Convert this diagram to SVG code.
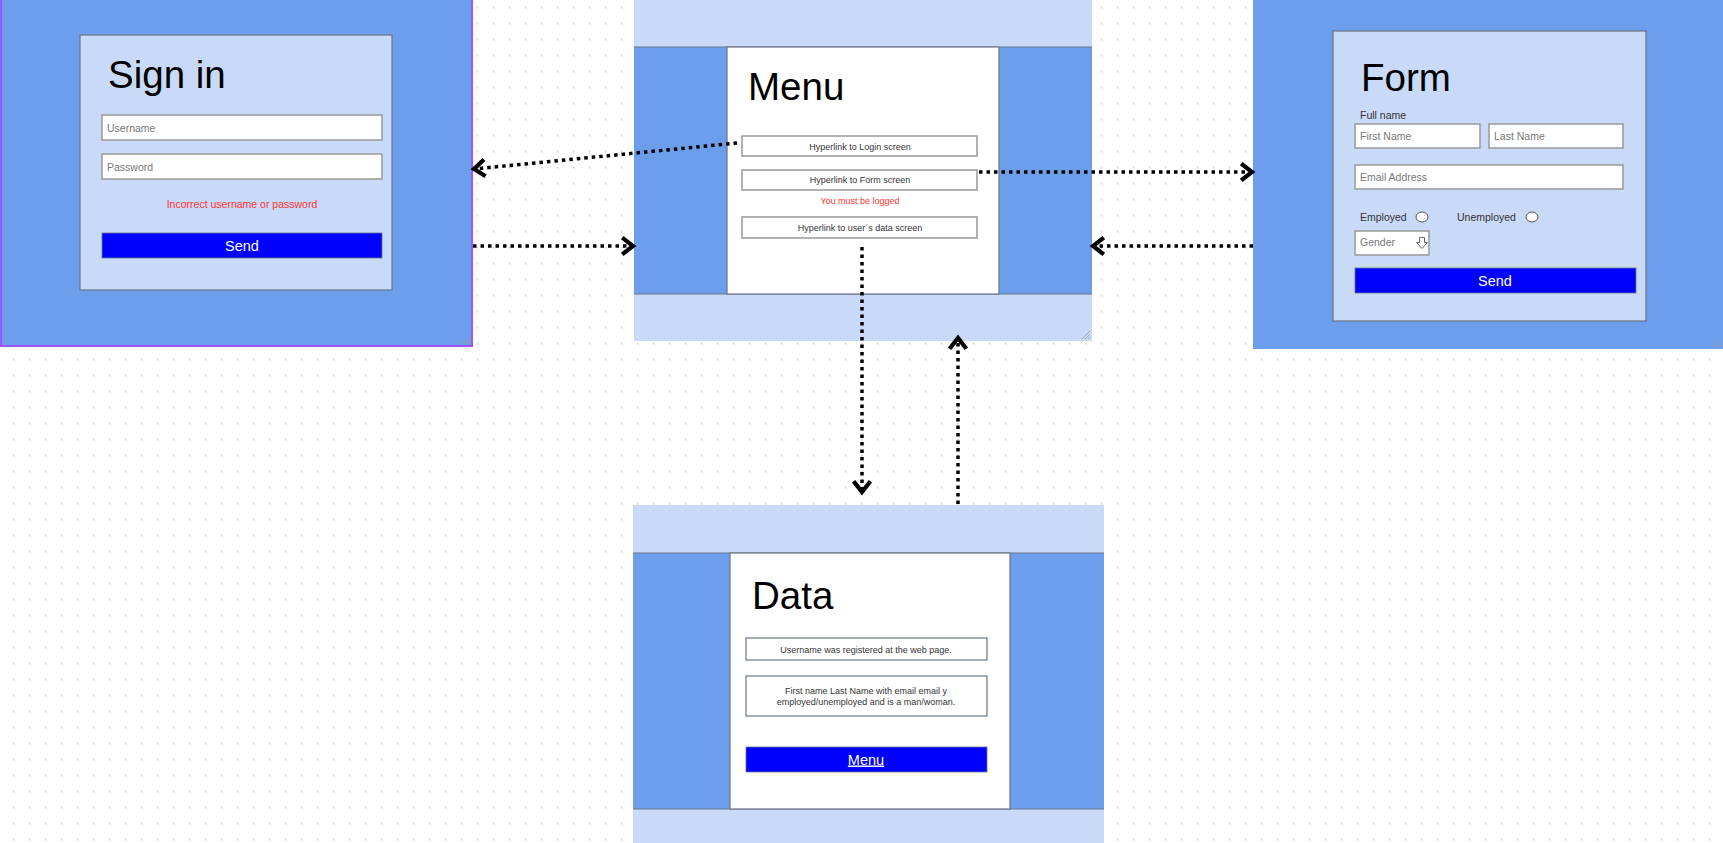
<svg xmlns="http://www.w3.org/2000/svg" width="1723" height="843" viewBox="0 0 1723 843">
<style>
text{font-family:"Liberation Sans",Arial,sans-serif}
.title{font-size:38.5px;fill:#000}
.ph{font-size:10.5px;fill:#777}
.lbl{font-size:10.5px;fill:#333}
.small{font-size:9px;fill:#333}
.red{fill:#FF3333}
.btnt{font-size:14.5px;fill:#fff}
.dark{fill:#6D9EEB}
.light{fill:#C9DAF8}
.card{fill:#C9DAF8;stroke:#6b7687;stroke-width:1.2}
.white{fill:#fff;stroke:#6b7687;stroke-width:1.2}
.inp{fill:#fff;stroke:#999;stroke-width:1.5}
.btn{fill:#0000FF;stroke:#6b7687;stroke-width:0.8}
.band{stroke:#6b7687;stroke-width:1.2}
.conn{fill:none;stroke:#000;stroke-width:3.5;stroke-dasharray:3.5 4}
.hatch{stroke:#999;stroke-width:0.8}
</style>
<defs>
<pattern id="grid" patternUnits="userSpaceOnUse" width="16" height="16">
<circle cx="13.7" cy="7.7" r="1" fill="#d3d3d3"/>
</pattern>
<marker id="arr" markerUnits="userSpaceOnUse" markerWidth="24" markerHeight="24" viewBox="-12 -10 14 20" refX="0" refY="0" orient="auto">
<path d="M-9,-7 L0,0 L-9,7" fill="none" stroke="#000" stroke-width="3.5" stroke-linejoin="miter"/>
</marker>
</defs>
<rect width="1723" height="843" fill="#fff"/>
<rect width="1723" height="843" fill="url(#grid)"/>

<g id="signin">
<rect x="1" y="-2" width="471" height="348" class="dark" stroke="#9955FF" stroke-width="2"/>
<rect x="80" y="35" width="312" height="255" class="card"/>
<text x="108" y="88" class="title">Sign in</text>
<rect x="102" y="115" width="280" height="25" class="inp"/>
<text x="107" y="132" class="ph">Username</text>
<rect x="102" y="154" width="280" height="25" class="inp"/>
<text x="107" y="170.5" class="ph">Password</text>
<text x="242" y="208" class="lbl red" text-anchor="middle">Incorrect username or password</text>
<rect x="102" y="233" width="280" height="25" class="btn"/>
<text x="242" y="251" class="btnt" text-anchor="middle">Send</text>
<line x1="462" y1="344" x2="470" y2="336" class="hatch"/>
<line x1="465" y1="344" x2="470" y2="339" class="hatch"/>
<line x1="468" y1="344" x2="470" y2="342" class="hatch"/>
</g>

<g id="menu">
<rect x="634" y="0" width="458" height="341" class="light"/>
<rect x="634" y="47" width="458" height="247" class="dark"/>
<line x1="634" y1="47" x2="1092" y2="47" class="band"/>
<line x1="634" y1="294" x2="1092" y2="294" class="band"/>
<rect x="727" y="47" width="272" height="247" class="white"/>
<text x="748" y="100" class="title">Menu</text>
<rect x="742" y="136" width="235" height="20" class="inp"/>
<text x="860" y="149.5" class="small" text-anchor="middle">Hyperlink to Login screen</text>
<rect x="742" y="170" width="235" height="20" class="inp"/>
<text x="860" y="183" class="small" text-anchor="middle">Hyperlink to Form screen</text>
<text x="860" y="204" class="small red" text-anchor="middle">You must be logged</text>
<rect x="742" y="217" width="235" height="21" class="inp"/>
<text x="860" y="231" class="small" text-anchor="middle">Hyperlink to user´s data screen</text>
<line x1="1082" y1="339" x2="1090" y2="331" class="hatch"/>
<line x1="1085" y1="339" x2="1090" y2="334" class="hatch"/>
<line x1="1088" y1="339" x2="1090" y2="337" class="hatch"/>
</g>

<g id="form">
<rect x="1253" y="0" width="470" height="349" class="dark"/>
<rect x="1333" y="31" width="313" height="290" class="card"/>
<text x="1361" y="91" class="title">Form</text>
<text x="1360" y="119" class="lbl">Full name</text>
<rect x="1355" y="124" width="125" height="24" class="inp"/>
<text x="1360" y="140" class="ph">First Name</text>
<rect x="1489" y="124" width="134" height="24" class="inp"/>
<text x="1494" y="140" class="ph">Last Name</text>
<rect x="1355" y="165" width="268" height="24" class="inp"/>
<text x="1360" y="181" class="ph">Email Address</text>
<text x="1360" y="221" class="lbl">Employed</text>
<ellipse cx="1422" cy="217" rx="6" ry="5" fill="#fff" stroke="#555" stroke-width="1"/>
<text x="1457" y="221" class="lbl">Unemployed</text>
<ellipse cx="1532" cy="217" rx="6" ry="5" fill="#fff" stroke="#555" stroke-width="1"/>
<rect x="1355" y="231" width="74" height="24" class="inp"/>
<text x="1360" y="246" class="ph">Gender</text>
<path d="M1419.5,237.5 h5 v5 h3 l-5.5,6 l-5.5,-6 h3 z" fill="#fff" stroke="#666" stroke-width="1"/>
<rect x="1355" y="268" width="281" height="25" class="btn"/>
<text x="1495" y="286" class="btnt" text-anchor="middle">Send</text>
<line x1="1714" y1="347" x2="1722" y2="339" class="hatch"/>
<line x1="1717" y1="347" x2="1722" y2="342" class="hatch"/>
<line x1="1720" y1="347" x2="1722" y2="345" class="hatch"/>
</g>

<g id="data">
<rect x="633" y="505" width="471" height="340" class="light"/>
<rect x="633" y="553" width="471" height="256" class="dark"/>
<line x1="633" y1="553" x2="1104" y2="553" class="band"/>
<line x1="633" y1="809" x2="1104" y2="809" class="band"/>
<rect x="730" y="553" width="280" height="256" class="white"/>
<text x="752" y="609" class="title">Data</text>
<rect x="746" y="638" width="241" height="22" class="white" stroke="#777"/>
<text x="866" y="652.5" class="small" text-anchor="middle">Username was registered at the web page.</text>
<rect x="746" y="676" width="241" height="40" class="white" stroke="#777"/>
<text x="866" y="693.5" class="small" text-anchor="middle">First name Last Name with email email y</text>
<text x="866" y="704.5" class="small" text-anchor="middle">employed/unemployed and is a man/woman.</text>
<rect x="746" y="747" width="241" height="25" class="btn"/>
<text x="866" y="764.5" class="btnt" text-anchor="middle" text-decoration="underline">Menu</text>
</g>

<g id="connectors">
<path class="conn" d="M737,143 L474,169" marker-end="url(#arr)"/>
<path class="conn" d="M473,246 L633,246" marker-end="url(#arr)"/>
<path class="conn" d="M979,172 L1252,172" marker-end="url(#arr)"/>
<path class="conn" d="M1253,246 L1093,246" marker-end="url(#arr)"/>
<path class="conn" d="M862,247 L862,492" marker-end="url(#arr)"/>
<path class="conn" d="M958,504 L958,338" marker-end="url(#arr)"/>
</g>
</svg>
